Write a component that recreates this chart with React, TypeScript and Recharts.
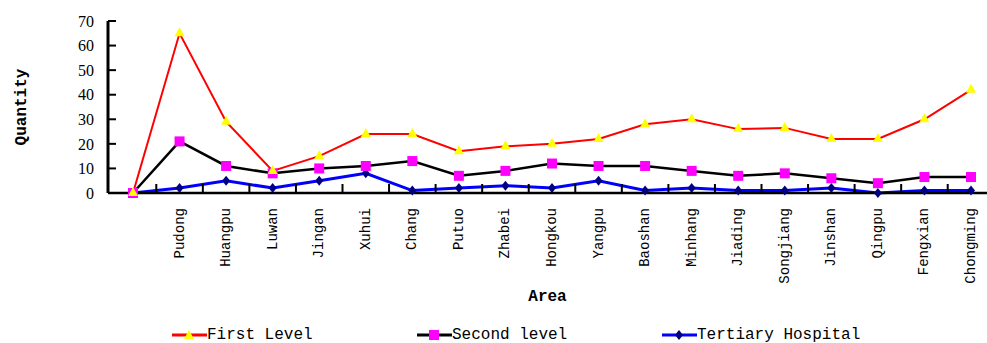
import { LineChart, Line, XAxis, YAxis, Legend } from 'recharts';

const AREAS = ['', 'Pudong', 'Huangpu', 'Luwan', 'Jingan', 'Xuhui', 'Chang', 'Putuo', 'Zhabei', 'Hongkou',
  'Yangpu', 'Baoshan', 'Minhang', 'Jiading', 'Songjiang', 'Jinshan', 'Qingpu', 'Fengxian', 'Chongming'];
const FIRST_LEVEL = [0, 65, 29, 9, 15, 24, 24, 17, 19, 20, 22, 28, 30, 26, 26.5, 22, 22, 30, 42];
const SECOND_LEVEL = [0, 21, 11, 8, 10, 11, 13, 7, 9, 12, 11, 11, 9, 7, 8, 6, 4, 6.5, 6.5];
const TERTIARY = [0, 2, 5, 2, 5, 8, 1, 2, 3, 2, 5, 1, 2, 1, 1, 2, 0, 1, 1];
const Y_TICKS = [0, 10, 20, 30, 40, 50, 60, 70];

const data = AREAS.map((area, i) => ({
  area,
  first: FIRST_LEVEL[i],
  second: SECOND_LEVEL[i],
  tertiary: TERTIARY[i],
}));

const W = 987;
const H = 343;
const Y_AXIS_W = 108;
const PAD_L = 25;
const PAD_R = 16;
const STEP = (W - Y_AXIS_W - PAD_L - PAD_R) / (AREAS.length - 1);
const MONO = '"Liberation Mono", "DejaVu Sans Mono", monospace';
const SERIF = '"Liberation Serif", "DejaVu Serif", serif';

const Triangle = ({ cx, cy }: any) => (
  <path d={`M${cx},${cy - 6} L${cx + 5},${cy + 3} L${cx - 5},${cy + 3} Z`} fill="#ffff00" />
);
const Square = ({ cx, cy }: any) => (
  <rect x={cx - 5} y={cy - 5} width={10} height={10} fill="#ff00ff" />
);
const Diamond = ({ cx, cy }: any) => (
  <path d={`M${cx},${cy - 5} L${cx + 4},${cy} L${cx},${cy + 5} L${cx - 4},${cy} Z`} fill="#000080" />
);

// category labels plus tick marks placed between categories, pointing up into the plot
const AreaTick = ({ x, y, payload, index }: any) => {
  const axisY = y;
  return (
    <g>
      {index < AREAS.length - 1 && (
        <line x1={x + STEP / 2} x2={x + STEP / 2} y1={axisY} y2={axisY - 9} stroke="#000" strokeWidth={2} />
      )}
      <text
        x={x}
        y={axisY + 15}
        transform={`rotate(-90, ${x}, ${axisY + 15})`}
        textAnchor="end"
        dominantBaseline="central"
        fontFamily={MONO}
        fontSize={14}
        fill="#000"
      >
        {payload.value}
      </text>
    </g>
  );
};

const LEGEND_ITEMS = [
  { label: 'First Level', color: '#ff0000', marker: 'triangle' },
  { label: 'Second level', color: '#000000', marker: 'square' },
  { label: 'Tertiary Hospital', color: '#0000ff', marker: 'diamond' },
];

const LegendContent = () => (
  <div style={{ display: 'flex', paddingLeft: 172, fontFamily: MONO, fontSize: 16, color: '#000' }}>
    {LEGEND_ITEMS.map((it) => (
      <div key={it.label} style={{ display: 'flex', alignItems: 'center', width: 245 }}>
        <svg width={35} height={14}>
          <line x1={0} x2={35} y1={7} y2={7} stroke={it.color} strokeWidth={3} />
          {it.marker === 'triangle' && <Triangle cx={17} cy={8} />}
          {it.marker === 'square' && <rect x={12} y={2} width={10} height={10} fill="#ff00ff" />}
          {it.marker === 'diamond' && <Diamond cx={17} cy={7} />}
        </svg>
        <span style={{ whiteSpace: 'pre' }}>{it.label}</span>
      </div>
    ))}
  </div>
);

export default function App() {
  return (
    <div style={{ position: 'absolute', left: 0, top: 0, width: W, height: H, background: '#fff' }}>
      <LineChart width={W} height={H} data={data} margin={{ top: 21, right: 0, bottom: 0, left: 0 }}>
        <XAxis
          dataKey="area"
          interval={0}
          height={150}
          padding={{ left: PAD_L, right: PAD_R }}
          axisLine={{ stroke: '#000', strokeWidth: 2.5 }}
          tickLine={false}
          tickSize={0}
          tickMargin={0}
          tick={<AreaTick />}
          label={{
            content: ({ viewBox }: any) => (
              <text
                x={viewBox.x + viewBox.width / 2}
                y={viewBox.y + 104}
                textAnchor="middle"
                dominantBaseline="central"
                fontFamily={MONO}
                fontWeight="bold"
                fontSize={16}
                fill="#000"
              >
                Area
              </text>
            ),
          }}
        />
        <YAxis
          width={Y_AXIS_W}
          domain={[0, 70]}
          ticks={Y_TICKS}
          interval={0}
          axisLine={{ stroke: '#000', strokeWidth: 3 }}
          tickLine={{ stroke: '#000', strokeWidth: 2 }}
          tickSize={-8}
          tickMargin={22}
          tick={{ fill: '#000', fontFamily: SERIF, fontSize: 16 }}
          label={{
            content: ({ viewBox }: any) => {
              const lx = viewBox.x + 22;
              const ly = viewBox.y + viewBox.height / 2;
              return (
                <text
                  x={lx}
                  y={ly}
                  transform={`rotate(-90, ${lx}, ${ly})`}
                  textAnchor="middle"
                  dominantBaseline="central"
                  fontFamily={MONO}
                  fontWeight="bold"
                  fontSize={16}
                  fill="#000"
                >
                  Quantity
                </text>
              );
            },
          }}
        />
        <Legend
          content={<LegendContent />}
          wrapperStyle={{ position: 'absolute', left: 0, top: 326, width: W, height: 0 }}
        />
        <Line dataKey="tertiary" stroke="#0000ff" strokeWidth={3} dot={<Diamond />} isAnimationActive={false} />
        <Line dataKey="second" stroke="#000000" strokeWidth={2.5} dot={<Square />} isAnimationActive={false} />
        <Line dataKey="first" stroke="#ff0000" strokeWidth={2} dot={<Triangle />} isAnimationActive={false} />
      </LineChart>
    </div>
  );
}
